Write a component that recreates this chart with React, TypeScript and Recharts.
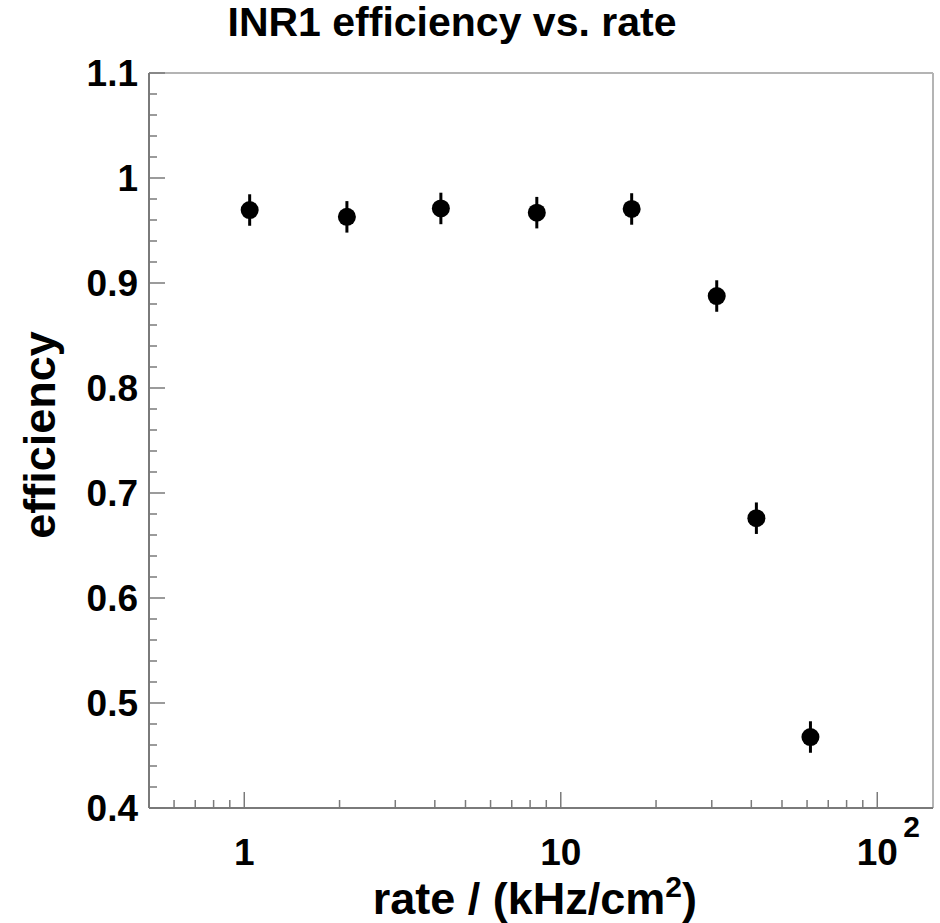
import React from "react";
import {
  ScatterChart, Scatter, XAxis, YAxis, ErrorBar, ReferenceLine, Customized,
} from "recharts";

// measured points (rate in kHz/cm^2)
const rates = [1.04, 2.11, 4.18, 8.4, 16.75, 31.1, 41.5, 61.5];
const effs = [0.9695, 0.963, 0.971, 0.967, 0.9705, 0.8876, 0.676, 0.4676];
const errs = [0.015, 0.015, 0.015, 0.015, 0.015, 0.015, 0.015, 0.015];

const xTicks = [0.6, 0.7, 0.8, 0.9, 1, 2, 3, 4, 5, 6, 7, 8, 9, 10, 20, 30, 40, 50, 60, 70, 80, 90, 100];
const xMajor = [1, 10, 100];
const yTicks = [
  0.4, 0.42, 0.44, 0.46, 0.48, 0.5, 0.52, 0.54, 0.56, 0.58,
  0.6, 0.62, 0.64, 0.66, 0.68, 0.7, 0.72, 0.74, 0.76, 0.78,
  0.8, 0.82, 0.84, 0.86, 0.88, 0.9, 0.92, 0.94, 0.96, 0.98,
  1.0, 1.02, 1.04, 1.06, 1.08, 1.1,
];
const yMajor = [0.4, 0.5, 0.6, 0.7, 0.8, 0.9, 1.0, 1.1];

const data = rates.map((r, i) => ({ rate: r, eff: effs[i], err: errs[i] }));

const FONT = "'Liberation Sans', Arial, Helvetica, sans-serif";
const AXIS = "#7a7a7a";
const FRAME = "#b4b4b4";

const isMajor = (list: number[], v: number) => list.some(m => Math.abs(m - v) < 1e-9);

function XTick({ x, y, payload }: any) {
  const v = payload.value;
  const major = isMajor(xMajor, v);
  return (
    <g>
      <line x1={x} x2={x} y1={y} y2={y - (major ? 16 : 8)} stroke={AXIS} strokeWidth={1.5} />
      {major && v < 100 && (
        <text x={x} y={y + 57} textAnchor="middle" fontFamily={FONT} fontWeight="bold" fontSize={37} fill="#000">
          {v}
        </text>
      )}
      {major && v === 100 && (
        <g fontFamily={FONT} fontWeight="bold" fill="#000">
          <text x={x} y={y + 57} textAnchor="middle" fontSize={37}>10</text>
          <text x={x + 26} y={y + 29} textAnchor="start" fontSize={30}>2</text>
        </g>
      )}
    </g>
  );
}

function YTick({ x, y, payload }: any) {
  const v = payload.value;
  const major = isMajor(yMajor, v);
  return (
    <g>
      <line x1={x} x2={x + (major ? 16 : 8)} y1={y} y2={y} stroke={AXIS} strokeWidth={1.5} />
      {major && (
        <text x={x - 11} y={y} dy="0.36em" textAnchor="end" fontFamily={FONT} fontWeight="bold" fontSize={37} fill="#000">
          {Number(v.toFixed(1)) === 1 ? "1" : v.toFixed(1)}
        </text>
      )}
    </g>
  );
}

function Titles() {
  return (
    <g fontFamily={FONT} fontWeight="bold" fill="#000">
      <text x={452} y={36} textAnchor="middle" fontSize={41}>INR1 efficiency vs. rate</text>
      <text x={697} y={914} textAnchor="end" fontSize={45}>
        rate / (kHz/cm<tspan dy={-17} fontSize={30}>2</tspan><tspan dy={17}>)</tspan>
      </text>
      <text x={55} y={435} textAnchor="middle" fontSize={45} transform="rotate(-90 55 435)">efficiency</text>
    </g>
  );
}

export default function App() {
  return (
    <div style={{ position: "absolute", left: 0, top: 0, background: "#fff" }}>
      <ScatterChart width={940} height={923} margin={{ top: 73, right: 7, bottom: 0, left: 0 }}>
        <XAxis
          dataKey="rate" type="number" scale="log" domain={[0.5, 150]} allowDataOverflow
          ticks={xTicks} interval={0} tickSize={0} tickMargin={0} tickLine={false}
          tick={<XTick />} height={115} axisLine={{ stroke: AXIS, strokeWidth: 2 }}
        />
        <YAxis
          dataKey="eff" type="number" domain={[0.4, 1.1]} allowDataOverflow
          ticks={yTicks} interval={0} tickSize={0} tickMargin={0} tickLine={false}
          tick={<YTick />} width={149} axisLine={{ stroke: AXIS, strokeWidth: 2 }}
        />
        <ReferenceLine y={1.1} stroke={FRAME} strokeWidth={2} />
        <ReferenceLine x={150} stroke={FRAME} strokeWidth={2} />
        <Scatter
          data={data} isAnimationActive={false} fill="#000"
          shape={(p: any) => <circle cx={p.cx} cy={p.cy} r={9} fill="#000" />}
        >
          <ErrorBar dataKey="err" direction="y" width={0} stroke="#000" strokeWidth={3} isAnimationActive={false} />
        </Scatter>
        <Customized component={<Titles />} />
      </ScatterChart>
    </div>
  );
}
